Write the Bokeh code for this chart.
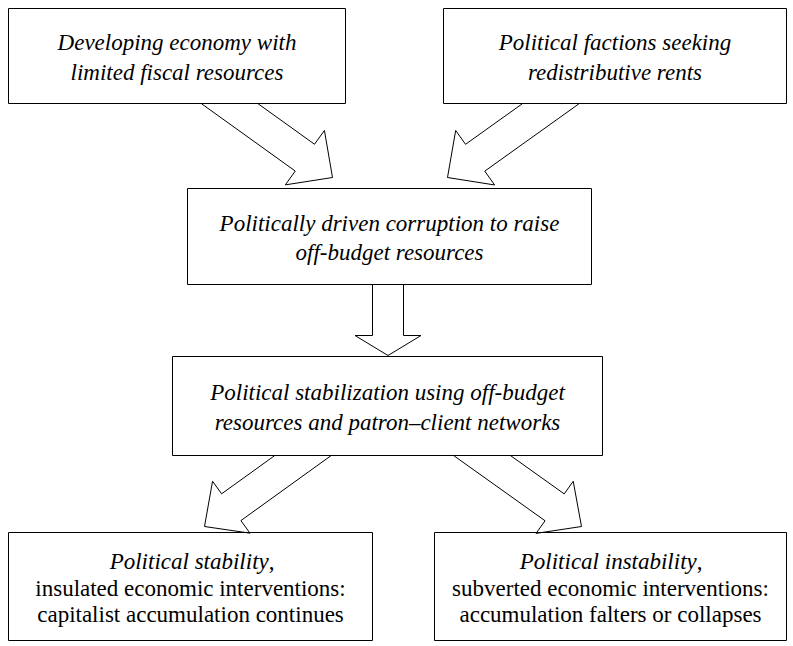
import math
from bokeh.plotting import figure
from bokeh.models import Range1d
from bokeh.core.properties import value
from bokeh.embed import file_html
from bokeh.resources import INLINE

# ---- diagram content (page pixel coordinates) ----
box_left = [8, 443, 187, 172, 8, 434]
box_right = [345, 786, 591, 602, 372, 786]
box_top = [8, 8, 188, 356, 532, 532]
box_bottom = [103, 103, 284, 455, 640, 640]

box_lines = [
    ["Developing economy with", "limited fiscal resources"],
    ["Political factions seeking", "redistributive rents"],
    ["Politically driven corruption to raise", "off-budget resources"],
    ["Political stabilization using off-budget", "resources and patron\u2013client networks"],
    ["Political stability", "insulated economic interventions:", "capitalist accumulation continues"],
    ["Political instability", "subverted economic interventions:", "accumulation falters or collapses"],
]
# first line italic followed by upright comma (bottom boxes)
lead_comma = [False, False, False, False, True, True]
lead_italic_width = [0, 0, 0, 0, 162, 178]

arrow_start_x = [229, 550.5, 387.5, 302.5, 481.5]
arrow_start_y = [103, 103, 284, 455, 455]
arrow_tip_x = [332, 447, 387.5, 204, 581]
arrow_tip_y = [177, 177, 355, 526, 526]
shaft_width = [33, 33, 31, 33, 33]
head_width = [67, 67, 66, 64, 64]
head_length = [34, 34, 20, 33, 33]

FONT = "Liberation Serif"
FS = "23px"

W, H = 793, 646
p = figure(width=W, height=H, x_range=Range1d(0, W), y_range=Range1d(H, 0),
           output_backend="svg", toolbar_location=None, min_border=0)
p.axis.visible = False
p.grid.visible = False
p.outline_line_color = None

# texts first
for i, lines in enumerate(box_lines):
    cx = (box_left[i] + box_right[i]) / 2
    cy = (box_top[i] + box_bottom[i]) / 2 + 1.5
    nl = len(lines)
    sp = 29.5 if nl == 2 else 26.5
    for j, line in enumerate(lines):
        y = cy + (j - (nl - 1) / 2) * sp
        if lead_comma[i] and j == 0:
            xsplit = cx + (lead_italic_width[i] - 5.5) / 2
            p.text(x=[xsplit], y=[y], text=[line], text_font=value(FONT), text_font_size=FS,
                   text_font_style="italic", text_align="right", text_baseline="middle")
            p.text(x=[xsplit], y=[y], text=[","], text_font=value(FONT), text_font_size=FS,
                   text_font_style="normal", text_align="left", text_baseline="middle")
        else:
            style = "normal" if lead_comma[i] else "italic"
            p.text(x=[cx], y=[y], text=[line], text_font=value(FONT), text_font_size=FS,
                   text_font_style=style, text_align="center", text_baseline="middle")

# block arrows as closed outlines, starting exactly on the box edge
xs, ys = [], []
for sx, sy, tx, ty, sw, hw, hl in zip(arrow_start_x, arrow_start_y, arrow_tip_x, arrow_tip_y,
                                      shaft_width, head_width, head_length):
    L = math.hypot(tx - sx, ty - sy)
    dx, dy = (tx - sx) / L, (ty - sy) / L
    nx, ny = -dy, dx
    kx, ky = tx - dx * hl, ty - dy * hl

    def edge_start(sign):
        qx, qy = sx + sign * nx * sw / 2, sy + sign * ny * sw / 2
        k = -(qy - sy) / dy
        return (qx + k * dx, qy + k * dy)

    pts = [edge_start(1), (kx + nx * sw / 2, ky + ny * sw / 2), (kx + nx * hw / 2, ky + ny * hw / 2),
           (tx, ty), (kx - nx * hw / 2, ky - ny * hw / 2), (kx - nx * sw / 2, ky - ny * sw / 2),
           edge_start(-1)]
    xs.append([q[0] for q in pts])
    ys.append([q[1] for q in pts])
p.multi_line(xs, ys, line_color="black", line_width=1, line_join="miter")

# boxes (outline only)
p.quad(left=box_left, right=box_right, top=box_top, bottom=box_bottom,
       fill_color=None, line_color="black", line_width=1)

open("out.html", "w").write(file_html(p, INLINE))
